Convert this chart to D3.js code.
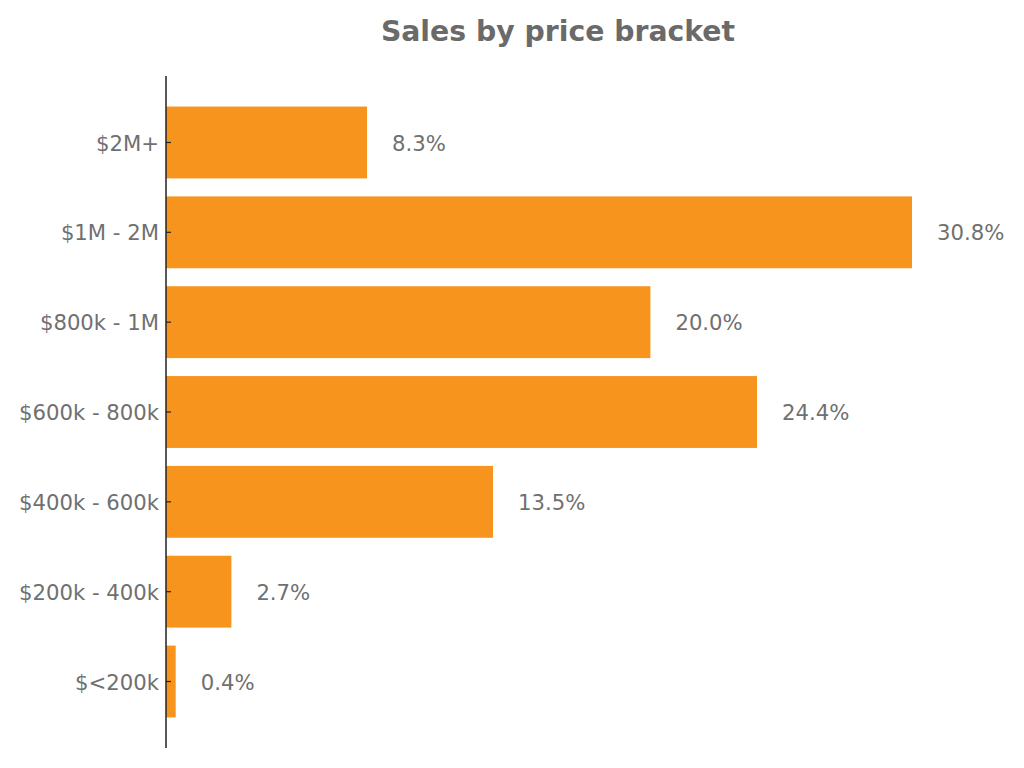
<!DOCTYPE html>
<html>
<head>
<meta charset="utf-8">
<script src="https://cdn.jsdelivr.net/npm/d3@7"></script>
<style>
  html, body { margin: 0; padding: 0; background: #fff; }
  svg { display: block; font-family: "DejaVu Sans", sans-serif; }
</style>
</head>
<body>
<svg id="chart" width="1024" height="768"></svg>
<script>
const categories = ["$2M+", "$1M - 2M", "$800k - 1M", "$600k - 800k", "$400k - 600k", "$200k - 400k", "$<200k"];
const values = [8.3, 30.8, 20.0, 24.4, 13.5, 2.7, 0.4];
const valueLabels = ["8.3%", "30.8%", "20.0%", "24.4%", "13.5%", "2.7%", "0.4%"];
const title = "Sales by price bracket";

const svg = d3.select("#chart");
const plotLeft = 166, plotRight = 912, plotTop = 76, plotBottom = 748;
const barFrac = 0.8;

const y = d3.scaleLinear().domain([-0.74, categories.length - 1 + 0.74]).range([plotTop, plotBottom]);
const x = d3.scaleLinear().domain([0, d3.max(values)]).range([plotLeft, plotRight]);
const band = y(1) - y(0);

svg.append("text")
  .attr("x", 558).attr("y", 41)
  .attr("text-anchor", "middle")
  .attr("font-size", 28.3).attr("font-weight", "bold")
  .attr("fill", "#6a6a6a")
  .text(title);

svg.append("g").selectAll("rect").data(values).join("rect")
  .attr("x", x(0))
  .attr("y", (d, i) => y(i) - band * barFrac / 2)
  .attr("width", d => x(d) - x(0))
  .attr("height", band * barFrac)
  .attr("fill", "#F7941E");

svg.append("g").selectAll("text").data(values).join("text")
  .attr("x", d => x(d) + 25)
  .attr("y", (d, i) => y(i) + 0.7)
  .attr("dy", "0.35em")
  .attr("font-size", 21.2)
  .attr("fill", "#707070")
  .text((d, i) => valueLabels[i]);

// y axis
const axisG = svg.append("g");
axisG.append("line")
  .attr("x1", plotLeft).attr("x2", plotLeft).attr("y1", plotTop).attr("y2", plotBottom)
  .attr("stroke", "#222").attr("stroke-width", 1.5);
const ticks = axisG.selectAll("g.tick").data(categories).join("g")
  .attr("class", "tick")
  .attr("transform", (d, i) => `translate(0,${y(i)})`);
ticks.append("line").attr("x1", plotLeft).attr("x2", plotLeft + 5).attr("stroke", "#222").attr("stroke-width", 1.2);
ticks.append("text")
  .attr("x", plotLeft - 7).attr("y", 0.7).attr("dy", "0.35em")
  .attr("text-anchor", "end")
  .attr("font-size", 21.2)
  .attr("fill", "#707070")
  .text(d => d);
</script>
</body>
</html>
